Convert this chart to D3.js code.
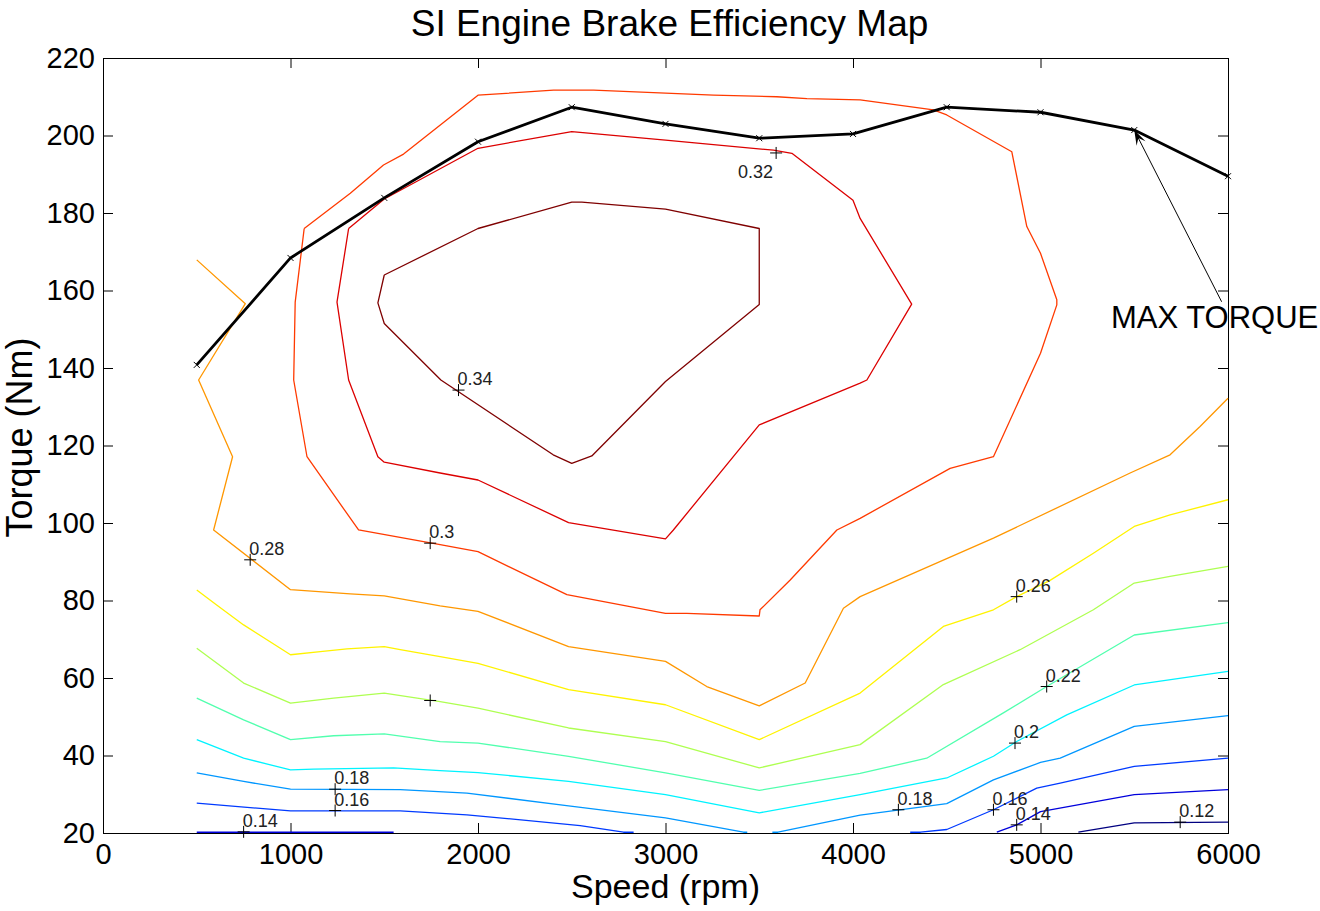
<!DOCTYPE html>
<html lang="en">
<head>
<meta charset="utf-8">
<title>SI Engine Brake Efficiency Map</title>
<script src="https://d3js.org/d3.v7.min.js"></script>
<style>
  body { margin: 0; background: #fff; }
  svg { font-family: 'Liberation Sans', Arial, sans-serif; }
</style>
</head>
<body>
<div id="chart"></div>
<script>

// ---- data: [speed rpm, torque Nm] ----

var speedTicks = [0, 1000, 2000, 3000, 4000, 5000, 6000];
var torqueTicks = [20, 40, 60, 80, 100, 120, 140, 160, 180, 200, 220];

// wide open throttle curve
var maxSpeed  = [500, 1000, 1500, 2000, 2500, 3000, 3500, 4000, 4500, 5000, 5500, 6000];
var maxTorque = [140.8, 168.4, 183.9, 198.4, 207.3, 203, 199.3, 200.4, 207.3, 206, 201.4, 189.5];

// efficiency contours
var c034 = [[1500,164],[1466,156.8],[1500,151.5],[1802,136.9],[2401,117.6],[2500,115.4],[2607,117.3],
  [3000,136.5],[3500,156.4],[3500,176],[3000,181],[2554,182.8],[2500,182.8],[2000,176],[1500,164]];
var c032 = [[1310,176],[1500,183.6],[2000,196.7],[2500,201],[3000,198.8],[3576,196.2],[3674,195.4],
  [4000,183.3],[4038,178.6],[4313,156.5],[4074,136.9],[4038,136.1],[3500,125.3],[3042,98.2],[3000,95.9],
  [2483,100.1],[2000,111.1],[1798,112.9],[1500,115.7],[1466,117.1],[1310,136.9],[1248,157],[1310,176]];
var c030 = [[1073,176],[1319,185.1],[1496,192.4],[1603,195.2],[2000,210.4],[2403,211.7],[2616,211.7],
  [3256,210.4],[3594,210],[3754,209.5],[4038,209.2],[4429,206.6],[4500,205.3],[4847,195.8],[4927,176.5],
  [5000,169.6],[5087,157.6],[5087,156.3],[5000,143.8],[4749,117.1],[4518,114.1],[4038,101.2],[3914,98.2],
  [3665,85.3],[3504,77.6],[3500,76],[3114,76.7],[3000,76.7],[2474,81.5],[2000,92.6],[1798,94.4],
  [1363,98.2],[1088,117.1],[1017,136.9],[1025,157],[1073,176]];
var c028 = [[500,167.9],[759,156.6],[510,136.9],[691,117.1],[590,98.2],[1000,82.8],[1319,81.7],[1500,81.2],
  [1798,78.6],[2000,77.2],[2483,68.1],[3000,64.3],[3220,57.8],[3500,52.8],[3745,58.7],[3949,78],[4038,81],
  [4749,96.1],[5478,112.9],[5691,117.6],[5851,124.9],[6000,132.2]];
var c026 = [[500,82.7],[608,78.8],[750,73.7],[1000,66],[1159,66.8],[1301,67.5],[1500,68.1],[1585,67.3],
  [1798,65.5],[2000,63.8],[2483,57],[3000,53.1],[3500,44.1],[4038,56.1],[4482,73.3],[4749,77.6],[4873,81],
  [5051,85.2],[5282,92.2],[5500,99.1],[5691,102.1],[6000,106]];
var c024 = [[500,67.7],[750,58.7],[1000,53.5],[1230,54.8],[1500,56.1],[1798,53.9],[2000,52.2],[2483,47.1],
  [3000,43.6],[3500,36.8],[4038,42.8],[4482,58.3],[4891,67.3],[5282,77.6],[5500,84.5],[5691,86.2],[6000,88.8]];
var c022 = [[500,54.8],[750,49.2],[1000,44.1],[1230,45.1],[1500,45.6],[1798,43.6],[2000,43.2],[2483,39.8],
  [3000,35.5],[3500,31],[4038,35.4],[4393,39.3],[4802,51],[5033,57.8],[5500,71.1],[6000,74.3]];
var c020 = [[500,44.1],[750,39.3],[1000,36.3],[1123,36.5],[1550,36.8],[1798,36.1],[2000,35.6],[2483,33.3],
  [3000,29.9],[3500,25.2],[4038,29.9],[4500,34.2],[4749,39.8],[4873,43.6],[5140,50.5],[5500,58.2],[6000,61.7]];
var c018a = [[500,35.5],[750,33.3],[1000,31.3],[1585,31.2],[1941,30.3],[2483,27],[3000,23.9],[3416,20.2],[3436,20.2]];
var c018b = [[3570,20.2],[3600,20.2],[4038,24.6],[4500,27.6],[4749,33.7],[5000,38.2],[5105,39.3],[5500,47.5],[6000,50.3]];
var c016a = [[500,27.7],[1000,25.7],[1585,25.7],[1941,24.7],[2545,21.9],[2776,20.2],[2830,20.2]];
var c016b = [[4305,20.2],[4360,20.2],[4500,20.9],[4749,26],[4980,31.6],[5105,32.9],[5500,37.2],[6000,39.3]];
var c014a = [[500,20.2],[1550,20.2]];
var c014b = [[4767,20.2],[4873,22.1],[5000,25.5],[5500,29.9],[6000,31.2]];
var c012 = [[5202,20.2],[5500,22.6],[6000,22.8]];

// label markers: level, speed, torque
var labelLevel  = [0.34, 0.32, 0.3, 0.28, 0.26, 0.24, 0.22, 0.2, 0.18, 0.18, 0.16, 0.16, 0.14, 0.14, 0.12];
var labelSpeed  = [1896, 3590, 1745, 785, 4873, 1745, 5033, 4864, 1238, 4242, 1238, 4749, 750, 4873, 5745];
var labelTorque = [134.3, 195.5, 94.8, 90.5, 81.0, 54.2, 57.8, 43.2, 31.3, 26.0, 25.8, 26.0, 20.3, 22.1, 22.8];
var labelShown  = [true, true, true, true, true, false, true, true, true, true, true, true, true, true, true];

var contours = [
  {level: 0.34, pts: c034}, {level: 0.32, pts: c032}, {level: 0.3, pts: c030},
  {level: 0.28, pts: c028}, {level: 0.26, pts: c026}, {level: 0.24, pts: c024},
  {level: 0.22, pts: c022}, {level: 0.2, pts: c020},
  {level: 0.18, pts: c018a}, {level: 0.18, pts: c018b},
  {level: 0.16, pts: c016a}, {level: 0.16, pts: c016b},
  {level: 0.14, pts: c014a}, {level: 0.14, pts: c014b},
  {level: 0.12, pts: c012}
];

// ---- layout ----
var margin = {top: 58, right: 92, bottom: 78, left: 103},
    width = 1320 - margin.left - margin.right,
    height = 911 - margin.top - margin.bottom;

var svg = d3.select("#chart")
  .append("svg")
    .attr("width", 1320)
    .attr("height", 911)
  .append("g")
    .attr("transform", "translate(" + margin.left + "," + margin.top + ")");

var x = d3.scaleLinear().domain([0, 6000]).range([0, width]);
var y = d3.scaleLinear().domain([20, 220]).range([height, 0]);

// matlab jet colormap over the contour levels
function jet(v) {
  var t = (v - 0.12) / 0.22;
  function c(a) { return Math.max(0, Math.min(1, a)) * 255; }
  return d3.rgb(c(1.5 - Math.abs(4 * t - 3)), c(1.5 - Math.abs(4 * t - 2)), c(1.5 - Math.abs(4 * t - 1)));
}

var line = d3.line()
  .x(function(d) { return x(d[0]); })
  .y(function(d) { return y(d[1]); });

// axes box + inward ticks
function styleAxis(g) {
  g.select(".domain").remove();
  g.selectAll(".tick line").attr("stroke", "black");
  g.attr("font-family", "'Liberation Sans', Arial, sans-serif").attr("font-size", 29);
  g.selectAll(".tick text").attr("fill", "black");
}

svg.append("g")
  .attr("transform", "translate(0," + height + ")")
  .call(d3.axisBottom(x).tickValues(speedTicks).tickSize(-10).tickPadding(10).tickFormat(d3.format("d")))
  .call(styleAxis);
svg.append("g")
  .call(d3.axisTop(x).tickValues(speedTicks).tickSize(-10).tickFormat(""))
  .call(styleAxis);
svg.append("g")
  .call(d3.axisLeft(y).tickValues(torqueTicks).tickSize(-10).tickPadding(8))
  .call(styleAxis);
svg.append("g")
  .attr("transform", "translate(" + width + ",0)")
  .call(d3.axisRight(y).tickValues(torqueTicks).tickSize(-10).tickFormat(""))
  .call(styleAxis);

svg.append("rect")
  .attr("width", width)
  .attr("height", height)
  .attr("fill", "none")
  .attr("stroke", "black")
  .attr("stroke-width", 1)
  .attr("shape-rendering", "crispEdges");

// contours (drawn over the box, like matlab does at the lower edge)
svg.append("g")
  .selectAll("path")
  .data(contours)
  .enter()
  .append("path")
    .attr("d", function(d) { return line(d.pts); })
    .attr("fill", "none")
    .attr("stroke", function(d) { return jet(d.level); })
    .attr("stroke-width", 1.3)
    .attr("stroke-linejoin", "round");

// max torque curve
var maxData = maxSpeed.map(function(s, i) { return [s, maxTorque[i]]; });
svg.append("path")
  .datum(maxData)
  .attr("d", line)
  .attr("fill", "none")
  .attr("stroke", "black")
  .attr("stroke-width", 2.8)
  .attr("stroke-linejoin", "round");

svg.append("g")
  .selectAll("path")
  .data(maxData)
  .enter()
  .append("path")
    .attr("d", function(d) {
      var cx = x(d[0]), cy = y(d[1]), s = 3;
      return "M" + (cx - s) + "," + (cy - s) + "L" + (cx + s) + "," + (cy + s) +
             "M" + (cx - s) + "," + (cy + s) + "L" + (cx + s) + "," + (cy - s);
    })
    .attr("stroke", "black")
    .attr("stroke-width", 1);

// contour labels
var labels = labelLevel.map(function(l, i) {
  return {level: l, s: labelSpeed[i], t: labelTorque[i], shown: labelShown[i]};
});

svg.append("g")
  .selectAll("path")
  .data(labels)
  .enter()
  .append("path")
    .attr("d", function(d) {
      var cx = x(d.s), cy = y(d.t), s = 6;
      return "M" + (cx - s) + "," + cy + "H" + (cx + s) + "M" + cx + "," + (cy - s) + "V" + (cy + s);
    })
    .attr("stroke", "black")
    .attr("stroke-width", 1);

svg.append("g")
  .selectAll("text")
  .data(labels.filter(function(d) { return d.shown; }))
  .enter()
  .append("text")
    .attr("x", function(d) { return d.level === 0.32 ? x(d.s) - 3 : x(d.s) - 1; })
    .attr("y", function(d) { return d.level === 0.32 ? y(d.t) + 25 : y(d.t) - 5; })
    .attr("text-anchor", function(d) { return d.level === 0.32 ? "end" : "start"; })
    .attr("font-size", 18)
    .attr("fill", "#222")
    .text(function(d) { return String(d.level); });

// max torque annotation
var tip = [x(5500), y(201.4)];
var tail = [x(5966), y(157.1)];
svg.append("line")
  .attr("x1", tail[0]).attr("y1", tail[1])
  .attr("x2", tip[0]).attr("y2", tip[1])
  .attr("stroke", "black")
  .attr("stroke-width", 1);

var ang = Math.atan2(tip[1] - tail[1], tip[0] - tail[0]);
var hl = 15, hw = 5;
var bx = tip[0] - hl * Math.cos(ang), by = tip[1] - hl * Math.sin(ang);
svg.append("path")
  .attr("d", "M" + tip[0] + "," + tip[1] +
        "L" + (bx + hw * Math.sin(ang)) + "," + (by - hw * Math.cos(ang)) +
        "L" + (tip[0] - 0.6 * hl * Math.cos(ang)) + "," + (tip[1] - 0.6 * hl * Math.sin(ang)) +
        "L" + (bx - hw * Math.sin(ang)) + "," + (by + hw * Math.cos(ang)) + "Z")
  .attr("fill", "black");

svg.append("text")
  .attr("x", x(5376))
  .attr("y", y(150.3))
  .attr("font-size", 31)
  .attr("fill", "black")
  .text("MAX TORQUE");

// titles
svg.append("text")
  .attr("x", width / 2 + 4)
  .attr("y", -22)
  .attr("text-anchor", "middle")
  .attr("font-size", 37)
  .attr("fill", "black")
  .text("SI Engine Brake Efficiency Map");

svg.append("text")
  .attr("x", width / 2)
  .attr("y", height + 65)
  .attr("text-anchor", "middle")
  .attr("font-size", 34)
  .attr("fill", "black")
  .text("Speed (rpm)");

svg.append("text")
  .attr("transform", "translate(" + (32 - margin.left) + "," + (height / 2 - 8) + ") rotate(-90)")
  .attr("text-anchor", "middle")
  .attr("font-size", 36)
  .attr("fill", "black")
  .text("Torque (Nm)");

</script>
</body>
</html>
